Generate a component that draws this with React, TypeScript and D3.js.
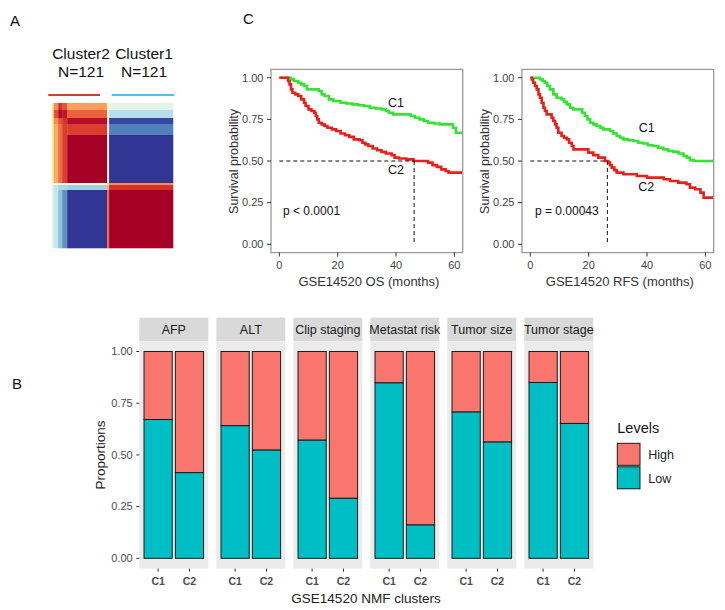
import React from "react";
import * as d3 from "d3";

const FONT = "'Liberation Sans', Arial, Helvetica, sans-serif";

// ---------- Panel A: consensus heatmap ----------
const clusterNames = ["Cluster2", "Cluster1"];
const clusterSizes = ["N=121", "N=121"];
const heatRowWeights = [7, 8, 6, 11, 48, 2, 5, 58];
const heatColWeights = [2, 4.5, 4, 5, 40, 2, 64];
const heatValues: number[][] = [
  [0.55, 0.75, 0.9, 0.85, 0.72, 0.45, 0.42],
  [0.55, 0.85, 0.97, 0.95, 0.82, 0.45, 0.32],
  [0.55, 0.75, 0.85, 0.9, 0.97, 0.4, 0.03],
  [0.55, 0.7, 0.8, 0.88, 0.88, 0.4, 0.12],
  [0.55, 0.7, 0.8, 0.88, 1.0, 0.4, 0.0],
  [0.5, 0.45, 0.45, 0.45, 0.45, 0.6, 0.75],
  [0.42, 0.35, 0.3, 0.3, 0.28, 0.7, 0.9],
  [0.42, 0.35, 0.25, 0.15, 0.0, 0.8, 1.0],
];

// ---------- Panel C: Kaplan-Meier curves ----------
const osC1: [number, number][] = [
  [0, 1], [2.5, 1], [4, 0.99], [5, 0.98], [6.5, 0.97], [7.5, 0.96], [8.5, 0.95], [9.5, 0.93],
  [12.5, 0.93], [13.5, 0.92], [14.5, 0.9], [15.5, 0.89], [17, 0.87], [18.5, 0.86], [21, 0.85],
  [23, 0.845], [25, 0.84], [27, 0.835], [29, 0.83], [31, 0.82], [33, 0.815], [35, 0.81],
  [36.5, 0.8], [37.5, 0.79], [39, 0.78], [44, 0.78], [45, 0.77], [46.5, 0.76], [48, 0.75],
  [49.5, 0.74], [51, 0.73], [53, 0.725], [55, 0.72], [58.5, 0.72], [59.5, 0.7], [60.5, 0.67], [62.8, 0.67],
];
const osC2: [number, number][] = [
  [0, 1], [2.5, 1], [3, 0.98], [3.5, 0.96], [4, 0.93], [4.5, 0.91], [5.5, 0.9], [6.5, 0.89],
  [7.5, 0.87], [8.5, 0.85], [9, 0.83], [10, 0.81], [11, 0.8], [12, 0.79], [12.5, 0.77], [13, 0.75],
  [13.5, 0.73], [14.5, 0.72], [15.5, 0.71], [16.5, 0.7], [18, 0.69], [19.5, 0.68], [21, 0.665],
  [22.5, 0.655], [24, 0.645], [25.5, 0.63], [27.5, 0.625], [28.5, 0.61], [29.5, 0.6], [30.5, 0.59],
  [32, 0.575], [33.5, 0.565], [35, 0.555], [36.5, 0.545], [38.5, 0.535], [39.5, 0.52], [41, 0.515],
  [43.5, 0.51], [46, 0.5], [50, 0.5], [51, 0.49], [52.5, 0.475], [54, 0.465], [55.5, 0.45],
  [57, 0.44], [58, 0.43], [62.8, 0.43],
];
const rfsC1: [number, number][] = [
  [0, 1], [2.2, 1], [3.3, 0.99], [4.2, 0.98], [5, 0.97], [5.8, 0.95], [6.7, 0.93], [7.9, 0.9],
  [9, 0.88], [10.7, 0.87], [11.6, 0.855], [12.5, 0.84], [13.6, 0.82], [14.7, 0.81], [17, 0.81],
  [17.8, 0.79], [18.7, 0.77], [19.6, 0.75], [20.5, 0.73], [21.6, 0.72], [22.7, 0.71], [24, 0.7],
  [25, 0.69], [27.3, 0.68], [28.4, 0.665], [29.6, 0.65], [30.8, 0.64], [31.9, 0.63], [33.5, 0.625],
  [35.3, 0.62], [37, 0.61], [38.7, 0.605], [40.3, 0.595], [42, 0.59], [43.8, 0.58], [45.6, 0.57],
  [47.3, 0.56], [49, 0.555], [50.8, 0.545], [52.5, 0.53], [53.6, 0.52], [54.7, 0.505], [56, 0.5], [62.8, 0.5],
];
const rfsC2: [number, number][] = [
  [0, 1], [0.5, 0.99], [1, 0.97], [1.6, 0.95], [2.2, 0.93], [2.8, 0.9], [3.3, 0.88], [3.9, 0.85],
  [4.5, 0.82], [5, 0.8], [5.6, 0.78], [7.3, 0.76], [7.9, 0.74], [8.5, 0.72], [9, 0.7], [9.6, 0.67],
  [10.7, 0.65], [11.6, 0.64], [12.5, 0.63], [13.3, 0.61], [14.2, 0.59], [14.8, 0.57], [18.7, 0.57],
  [19.9, 0.55], [21.6, 0.535], [23.3, 0.52], [25.6, 0.5], [26.7, 0.49], [27.3, 0.475], [27.9, 0.46],
  [28.8, 0.445], [29.6, 0.43], [31.9, 0.42], [36.5, 0.41], [40, 0.4], [45.7, 0.39], [47.9, 0.38],
  [50.7, 0.37], [53.5, 0.36], [54.7, 0.34], [56.5, 0.33], [58.3, 0.31], [59.4, 0.28], [62.8, 0.28],
];
const survTimeTicks = [0, 20, 40, 60];
const survProbTicks = [0, 0.25, 0.5, 0.75, 1];

// ---------- Panel B: stacked proportions ----------
const facets = ["AFP", "ALT", "Clip staging", "Metastat risk", "Tumor size", "Tumor stage"];
const clusters = ["C1", "C2"];
const lowC1 = [0.671, 0.641, 0.571, 0.848, 0.707, 0.85];
const lowC2 = [0.414, 0.523, 0.29, 0.161, 0.562, 0.652];
const levels = ["High", "Low"];
const propTicks = [0, 0.25, 0.5, 0.75, 1];

const GREEN = "#34e334";
const RED = "#e8201c";
const HIGH = "#F8766D";
const LOW = "#00BFC4";

function Heatmap() {
  const rowCum = [0, ...Array.from(d3.cumsum(heatRowWeights))];
  const colCum = [0, ...Array.from(d3.cumsum(heatColWeights))];
  const y = d3.scaleLinear().domain([0, rowCum[rowCum.length - 1]]).range([103, 248]);
  const x = d3.scaleLinear().domain([0, colCum[colCum.length - 1]]).range([51.7, 173]);
  const color = (v: number) => d3.interpolateRdYlBu(1 - v);
  return (
    <g>
      {heatValues.map((row, i) =>
        row.map((v, j) => (
          <rect
            key={`${i}-${j}`}
            x={x(colCum[j])}
            y={y(rowCum[i])}
            width={x(colCum[j + 1]) - x(colCum[j]) + 0.3}
            height={y(rowCum[i + 1]) - y(rowCum[i]) + 0.3}
            fill={color(v)}
          />
        ))
      )}
      <line x1={48.3} x2={100} y1={95} y2={95} stroke="#c8403c" strokeWidth={2} />
      <line x1={111.7} x2={174.3} y1={95} y2={95} stroke="#4ec3ea" strokeWidth={2} />
      {clusterNames.map((n, i) => (
        <g key={n} fontFamily={FONT} fontSize={15.5} textAnchor="middle" fill="#111">
          <text x={i === 0 ? 81 : 144} y={59}>{n}</text>
          <text x={i === 0 ? 81 : 144} y={77}>{clusterSizes[i]}</text>
        </g>
      ))}
    </g>
  );
}

type SurvProps = {
  left: number;
  right: number;
  c1: [number, number][];
  c2: [number, number][];
  median: number;
  c1Lab: [number, number];
  c2Lab: [number, number];
  pLab: [number, number];
  pText: string;
  xTitle: string;
};

function SurvPanel(p: SurvProps) {
  const x = d3.scaleLinear().domain([-2.85, 62.85]).range([p.left, p.right]);
  const y = d3.scaleLinear().domain([-0.05, 1.05]).range([252.6, 69.4]);
  const line = d3
    .line<[number, number]>()
    .x((d) => x(d[0]))
    .y((d) => y(d[1]))
    .curve(d3.curveStepAfter);
  const fmt = d3.format(".2f");
  return (
    <g fontFamily={FONT}>
      <path d={line(p.c1) || ""} fill="none" stroke={GREEN} strokeWidth={2.6} />
      <path d={line(p.c2) || ""} fill="none" stroke={RED} strokeWidth={2.6} />
      <line x1={x(0)} x2={x(p.median)} y1={y(0.5)} y2={y(0.5)} stroke="#111" strokeWidth={1} strokeDasharray="4,3" />
      <line x1={x(p.median)} x2={x(p.median)} y1={y(0.5)} y2={y(0)} stroke="#111" strokeWidth={1} strokeDasharray="4,3" />
      <rect x={p.left} y={y(1.05)} width={p.right - p.left} height={y(-0.05) - y(1.05)} fill="none" stroke="#999" strokeWidth={1.3} />
      {survProbTicks.map((t) => (
        <g key={t}>
          <line x1={p.left - 4} x2={p.left} y1={y(t)} y2={y(t)} stroke="#333" strokeWidth={1} />
          <text x={p.left - 7.5} y={y(t) + 3.8} fontSize={11} textAnchor="end" fill="#444">{fmt(t)}</text>
        </g>
      ))}
      {survTimeTicks.map((t) => (
        <g key={t}>
          <line x1={x(t)} x2={x(t)} y1={y(-0.05)} y2={y(-0.05) + 4} stroke="#333" strokeWidth={1} />
          <text x={x(t)} y={268.5} fontSize={11} textAnchor="middle" fill="#444">{t}</text>
        </g>
      ))}
      <text x={x(p.c1Lab[0])} y={y(p.c1Lab[1])} fontSize={12.5} textAnchor="middle" fill="#111">C1</text>
      <text x={x(p.c2Lab[0])} y={y(p.c2Lab[1])} fontSize={12.5} textAnchor="middle" fill="#111">C2</text>
      <text x={x(p.pLab[0])} y={y(p.pLab[1])} fontSize={12} fill="#111">{p.pText}</text>
      <text transform={`translate(${p.left - 33},161.5) rotate(-90)`} fontSize={12.5} textAnchor="middle" fill="#333">Survival probability</text>
      <text x={(p.left + p.right) / 2 + 2} y={286} fontSize={13} textAnchor="middle" fill="#333">{p.xTitle}</text>
    </g>
  );
}

function BarPanel() {
  const fx = d3.scaleBand<string>().domain(facets).range([139.3, 593.3]).paddingInner(0.104).paddingOuter(0);
  const y = d3.scaleLinear().domain([-0.05, 1.05]).range([568.65, 341.15]);
  const fmt = d3.format(".2f");
  const stripTop = 317.7;
  return (
    <g fontFamily={FONT}>
      {facets.map((f, i) => {
        const left = fx(f) as number;
        const w = fx.bandwidth();
        const bx = d3.scaleBand<string>().domain(clusters).range([left, left + w]).paddingInner(0.1).paddingOuter(0.15);
        const lows = [lowC1[i], lowC2[i]];
        return (
          <g key={f}>
            <rect x={left} y={stripTop} width={w} height={y(1.05) - stripTop} fill="#d9d9d9" />
            <text x={left + w / 2} y={334} fontSize={12.5} textAnchor="middle" fill="#1a1a1a">{f}</text>
            <rect x={left} y={y(1.05)} width={w} height={y(-0.05) - y(1.05)} fill="#ebebeb" />
            {clusters.map((c, k) => (
              <g key={c}>
                <rect x={bx(c)} y={y(1)} width={bx.bandwidth()} height={y(lows[k]) - y(1)} fill={HIGH} stroke="#1a1a1a" strokeWidth={1} />
                <rect x={bx(c)} y={y(lows[k])} width={bx.bandwidth()} height={y(0) - y(lows[k])} fill={LOW} stroke="#1a1a1a" strokeWidth={1} />
                <line x1={(bx(c) as number) + bx.bandwidth() / 2} x2={(bx(c) as number) + bx.bandwidth() / 2} y1={y(-0.05)} y2={y(-0.05) + 3} stroke="#333" />
                <text x={(bx(c) as number) + bx.bandwidth() / 2} y={585} fontSize={10.5} fontWeight="bold" textAnchor="middle" fill="#4d4d4d">{c}</text>
              </g>
            ))}
          </g>
        );
      })}
      {propTicks.map((t) => (
        <g key={t}>
          <line x1={136.3} x2={139.3} y1={y(t)} y2={y(t)} stroke="#333" />
          <text x={132.7} y={y(t) + 3.8} fontSize={11} textAnchor="end" fill="#4d4d4d">{fmt(t)}</text>
        </g>
      ))}
      <text transform="translate(105,455) rotate(-90)" fontSize={13.5} textAnchor="middle" fill="#222">Proportions</text>
      <text x={366} y={602.5} fontSize={13.5} textAnchor="middle" fill="#222">GSE14520 NMF clusters</text>
      <text x={617.3} y={433.3} fontSize={14.5} fill="#111">Levels</text>
      {levels.map((l, k) => (
        <g key={l}>
          <rect x={617.3} y={443.3 + k * 23.5} width={22.7} height={22} fill={k === 0 ? HIGH : LOW} stroke="#1a1a1a" strokeWidth={1} />
          <text x={648.3} y={459 + k * 23.5} fontSize={12.5} fill="#222">{l}</text>
        </g>
      ))}
    </g>
  );
}

export default function App() {
  return (
    <svg width={725} height={610} style={{ position: "absolute", left: 0, top: 0, background: "#fff" }}>
      <rect x={0} y={0} width={725} height={610} fill="#fff" />
      <g fontFamily={FONT} fontSize={15} fill="#111">
        <text x={10} y={26}>A</text>
        <text x={243} y={24}>C</text>
        <text x={12} y={389}>B</text>
      </g>
      <Heatmap />
      <SurvPanel left={271} right={462.7} c1={osC1} c2={osC2} median={46.2}
        c1Lab={[40, 0.824]} c2Lab={[40, 0.422]} pLab={[1.27, 0.176]} pText="p < 0.0001" xTitle="GSE14520 OS (months)" />
      <SurvPanel left={522} right={713.7} c1={rfsC1} c2={rfsC2} median={26.4}
        c1Lab={[39.9, 0.674]} c2Lab={[39.7, 0.322]} pLab={[1.6, 0.176]} pText="p = 0.00043" xTitle="GSE14520 RFS (months)" />
      <BarPanel />
    </svg>
  );
}
